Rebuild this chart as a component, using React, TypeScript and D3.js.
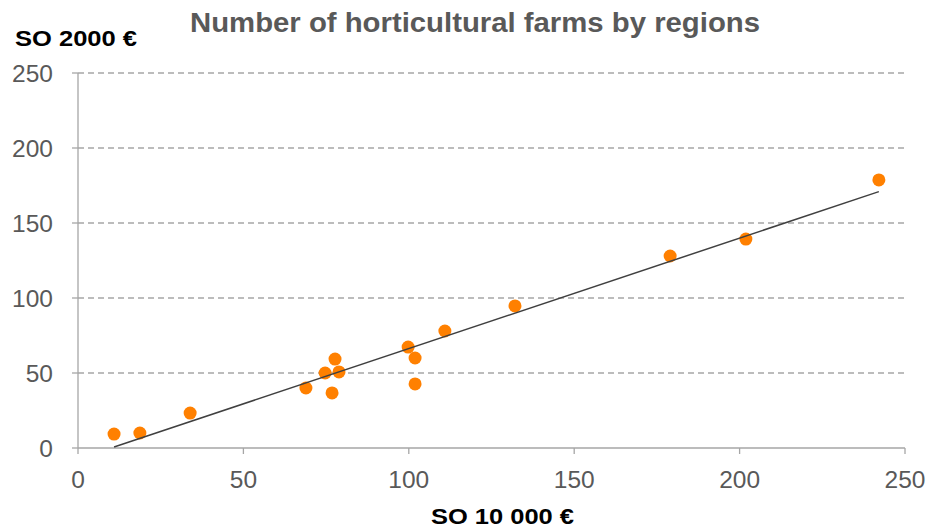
import React from "react";
import * as d3 from "d3";

const xValues = [10.9, 18.7, 33.9, 68.9, 74.7, 76.8, 77.7, 78.9, 99.8, 101.9, 101.9, 110.9, 132.1, 179, 201.9, 242.1];
const yValues = [9.3, 10, 23.3, 40, 50, 36.7, 59.3, 50.7, 67.3, 42.7, 60, 78, 94.7, 128, 139.3, 178.7];
const xTicks = [0, 50, 100, 150, 200, 250];
const yTicks = [0, 50, 100, 150, 200, 250];

const W = 928, H = 529;
const M = { left: 78, right: 905, top: 73, bottom: 448 };

export default function App() {
  const x = d3.scaleLinear().domain([0, 250]).range([M.left, M.right]);
  const y = d3.scaleLinear().domain([0, 250]).range([M.bottom, M.top]);
  const mx = d3.mean(xValues)!, my = d3.mean(yValues)!;
  const sxy = d3.sum(xValues.map((v, i) => (v - mx) * (yValues[i] - my)));
  const sxx = d3.sum(xValues.map((v) => (v - mx) ** 2));
  const slope = sxy / sxx;
  const intercept = my - slope * mx;
  const x0 = d3.min(xValues)!, x1 = d3.max(xValues)!;
  const line = d3.line<number>().x((d) => x(d)).y((d) => y(slope * d + intercept));
  const font = "'Liberation Sans', Arial, sans-serif";
  return (
    <svg width={W} height={H} style={{ position: "absolute", left: 0, top: 0 }} fontFamily={font}>
      <rect width={W} height={H} fill="#fff" />
      {yTicks.filter((t) => t > 0).map((t) => (
        <line key={t} x1={M.left} x2={M.right} y1={y(t)} y2={y(t)} stroke="#a6a6a6" strokeWidth={1.3} strokeDasharray="6,4" />
      ))}
      <line x1={M.left} x2={M.left} y1={M.top} y2={M.bottom} stroke="#a6a6a6" strokeWidth={1.3} />
      <line x1={M.left} x2={M.right} y1={M.bottom} y2={M.bottom} stroke="#a6a6a6" strokeWidth={1.3} />
      {yTicks.map((t) => (
        <g key={t}>
          <line x1={M.left - 6} x2={M.left} y1={y(t)} y2={y(t)} stroke="#a6a6a6" strokeWidth={1.3} />
          <text x={53} y={y(t) + 8.5} textAnchor="end" fontSize={24.5} fill="#595959">{t}</text>
        </g>
      ))}
      {xTicks.map((t) => (
        <g key={t}>
          <line x1={x(t)} x2={x(t)} y1={M.bottom} y2={M.bottom + 6} stroke="#a6a6a6" strokeWidth={1.3} />
          <text x={x(t)} y={488} textAnchor="middle" fontSize={24.5} fill="#595959">{t}</text>
        </g>
      ))}
      {xValues.map((v, i) => (
        <circle key={i} cx={x(v)} cy={y(yValues[i])} r={6.5} fill="#ff8000" />
      ))}
      <path d={line([x0, x1]) || ""} stroke="#404040" strokeWidth={1.5} fill="none" />
      <text x={475} y={32} textAnchor="middle" fontSize={28} fontWeight="bold" fill="#595959" textLength={570} lengthAdjust="spacingAndGlyphs">Number of horticultural farms by regions</text>
      <text x={15} y={46} fontSize={22.5} fontWeight="bold" fill="#000" textLength={122} lengthAdjust="spacingAndGlyphs">SO 2000 €</text>
      <text x={431} y={524} fontSize={22.5} fontWeight="bold" fill="#000" textLength={143} lengthAdjust="spacingAndGlyphs">SO 10 000 €</text>
    </svg>
  );
}
